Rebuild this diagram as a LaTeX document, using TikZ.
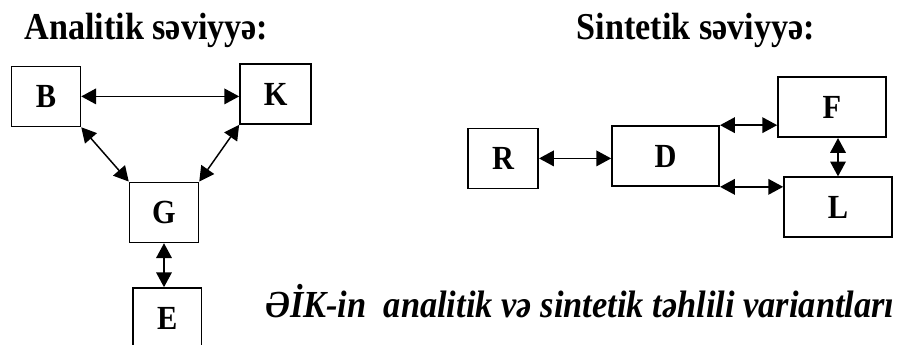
\documentclass[tikz,border=0pt]{standalone}
\usepackage{fontspec}
\setmainfont{Liberation Serif}[FakeStretch=0.9]
\usetikzlibrary{arrows.meta}
\tikzset{>={Triangle[length=3.7mm,width=3.9mm]}}
\tikzstyle{block}=[rectangle,draw=black,line width=1.2pt,inner sep=0pt,minimum height=1.5cm,minimum width=1.72cm,font=\fontsize{24}{26}\selectfont\bfseries]
\tikzstyle{wideblock}=[block,minimum width=2.7cm]
\tikzstyle{link}=[<->,line width=1.05pt]
\tikzstyle{heading}=[inner sep=0pt,anchor=base,font=\fontsize{27}{30}\selectfont\bfseries]

\begin{document}
\begin{tikzpicture}
	\useasboundingbox (0,0) rectangle (22.5,-8.6);
	\node[heading] (title1) at (3.66, -0.98) {Analitik səviyyə:};
	\node[heading] (title2) at (17.4, -0.98) {Sintetik səviyyə:};
	
	\node[block] (B) at (1.15, -2.41) {B};
	\node[block, minimum width=1.78cm] (K) at (6.89, -2.35) {K};
	\node[block] (G) at (4.1, -5.31) {G};
	\node[block] (E) at (4.18, -7.95) {E};
	
	\node[block, minimum width=1.75cm] (R) at (12.58, -3.96) {R};
	\node[wideblock, minimum width=2.68cm] (D) at (16.64, -3.9) {D};
	\node[wideblock] (F) at (20.8, -2.68) {F};
	\node[wideblock] (L) at (20.95, -5.18) {L};
	
	\node[inner sep=0pt, anchor=base west, font=\fontsize{27.2}{30}\selectfont\bfseries\itshape] (caption) at (6.625, -7.925) {ƏİK-in\ \ analitik və sintetik təhlili variantları};
	
	\draw[link] (B.east) -- (K.west |- B.east);
	\draw[link] (B.south east) -- (G.north west);
	\draw[link] (K.south west) -- (G.north east);
	\draw[link] (G.south) -- (G.south |- E.north);
	
	\draw[link] (R.east) -- (D.west |- R.east);
	\draw[link] (D.north east) -- (D.north east -| F.west);
	\draw[link] (D.south east) -- (D.south east -| L.west);
	\draw[link] (L.north |- F.south) -- (L.north);
\end{tikzpicture}
\end{document}
